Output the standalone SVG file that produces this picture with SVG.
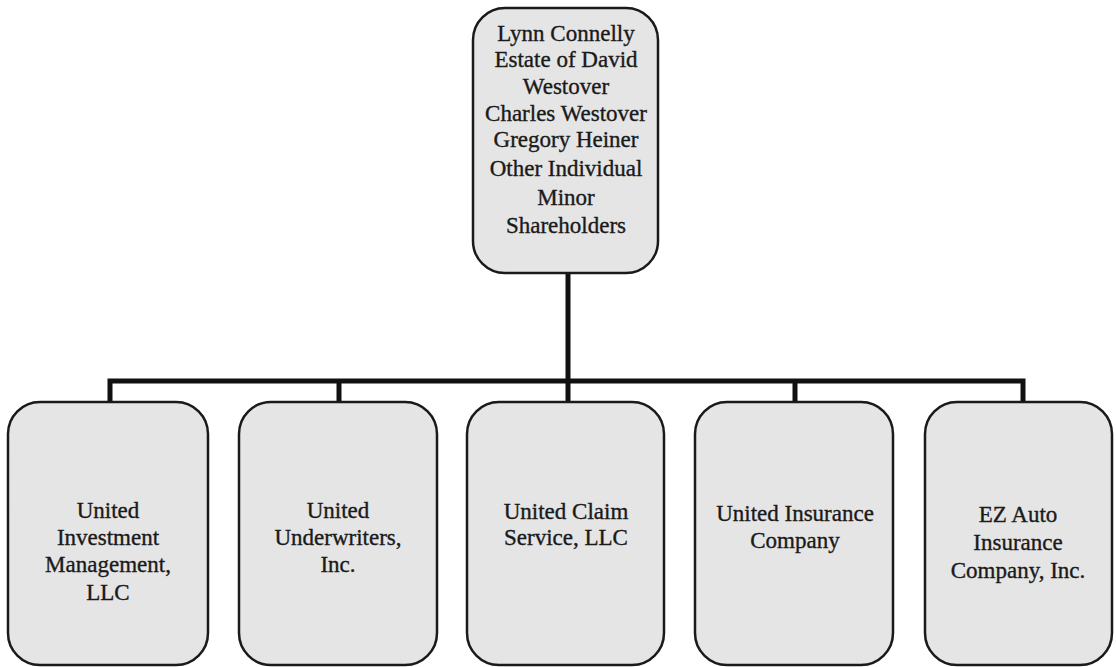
<svg xmlns="http://www.w3.org/2000/svg" width="1116" height="667" viewBox="0 0 1116 667">
<style>
.box{fill:#e5e5e5;stroke:#1a1a1a;stroke-width:2.5}
.t{font-family:"Liberation Serif","Times New Roman",serif;font-size:23px;fill:#1a1a1a;stroke:#1a1a1a;stroke-width:0.35;text-anchor:middle}
.c{fill:none;stroke:#111;stroke-width:5;stroke-linejoin:miter}
</style>
<rect width="1116" height="667" fill="#ffffff"/>
<g id="connectors">
<path class="c" d="M568 273 V381"/>
<path class="c" d="M110 403 V381 H1023 V403"/>
<path class="c" d="M339 381 V403"/>
<path class="c" d="M568 381 V403"/>
<path class="c" d="M795 381 V403"/>
</g>
<g id="shareholders">
<rect class="box" x="473" y="8" width="185" height="265" rx="32"/>
<text class="t"><tspan x="566" y="41">Lynn Connelly</tspan><tspan x="566" y="67">Estate of David</tspan><tspan x="566" y="94">Westover</tspan><tspan x="566" y="121">Charles Westover</tspan><tspan x="566" y="147">Gregory Heiner</tspan><tspan x="566" y="176">Other Individual</tspan><tspan x="566" y="205">Minor</tspan><tspan x="566" y="233">Shareholders</tspan></text>
</g>
<g id="uim">
<rect class="box" x="8" y="402" width="200" height="263" rx="32"/>
<text class="t"><tspan x="108" y="518">United</tspan><tspan x="108" y="545">Investment</tspan><tspan x="108" y="572">Management,</tspan><tspan x="108" y="600">LLC</tspan></text>
</g>
<g id="uu">
<rect class="box" x="239" y="402" width="198" height="263" rx="32"/>
<text class="t"><tspan x="338" y="518">United</tspan><tspan x="338" y="545">Underwriters,</tspan><tspan x="338" y="572">Inc.</tspan></text>
</g>
<g id="ucs">
<rect class="box" x="467" y="402" width="197" height="263" rx="32"/>
<text class="t"><tspan x="566" y="519">United Claim</tspan><tspan x="566" y="545">Service, LLC</tspan></text>
</g>
<g id="uic">
<rect class="box" x="695" y="402" width="198" height="263" rx="32"/>
<text class="t"><tspan x="795" y="521">United Insurance</tspan><tspan x="795" y="548">Company</tspan></text>
</g>
<g id="ez">
<rect class="box" x="925" y="402" width="187" height="263" rx="32"/>
<text class="t"><tspan x="1018" y="522">EZ Auto</tspan><tspan x="1018" y="550">Insurance</tspan><tspan x="1018" y="578">Company, Inc.</tspan></text>
</g>
</svg>
